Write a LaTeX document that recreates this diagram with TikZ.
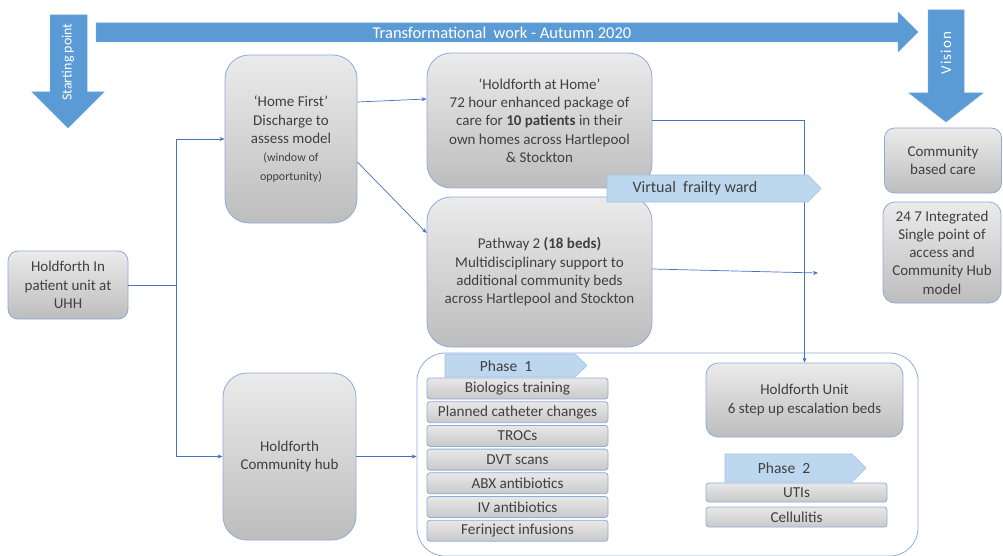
\documentclass[tikz,border=0pt]{standalone}
\usepackage{fontspec}
\setmainfont{Carlito}
\usetikzlibrary{arrows.meta}

\definecolor{bigarrow}{HTML}{5B9BD5}
\definecolor{conn}{HTML}{4472C4}
\definecolor{boxline}{HTML}{8EAADB}
\definecolor{gtop}{HTML}{EBEBEB}
\definecolor{gbot}{HTML}{BDBDBD}
\definecolor{itop}{HTML}{E8E8E8}
\definecolor{ibot}{HTML}{C9C9C9}
\definecolor{txt}{HTML}{404040}
\definecolor{tagfill}{HTML}{BDD7EE}
\definecolor{tagline}{HTML}{9DC3E6}

\tikzset{
  box/.style={draw=boxline, line width=0.8pt, top color=gtop, bottom color=gbot,
    text=txt, align=center, inner sep=2pt,
    font=\fontsize{15}{18.3}\selectfont},
  itembox/.style={draw=boxline, line width=0.8pt, top color=itop, bottom color=ibot,
    text=txt, rounded corners=3pt, minimum width=181pt, minimum height=21pt, inner sep=0pt,
    font=\fontsize{15.2}{17}\selectfont},
  conn/.style={draw=conn, line width=0.7pt},
  arr/.style={conn, -{Stealth[length=5pt,width=4pt]}},
  tag/.style={fill=tagfill, draw=tagline, line width=0.6pt},
  tagtext/.style={text=txt, font=\fontsize{15.5}{18}\selectfont},
  bigarrow/.style={fill=bigarrow, draw=bigarrow!85!white, line width=0.5pt},
  arrowtext/.style={text=white, font=\fontsize{14}{16}\selectfont},
}

\begin{document}
\begin{tikzpicture}[x=1pt, y=-1pt]
\useasboundingbox (0,0) rectangle (1003,556);

% --- timeline arrows ---
\path[bigarrow] (50,15) -- (87,15) -- (87,92) -- (104,92) -- (68,128) -- (32,92) -- (50,92) -- cycle;
\node[arrowtext, rotate=90] (startlbl) at (68,62) {Starting point};

\path[bigarrow] (96,23) -- (898,23) -- (898,12) -- (918,32) -- (898,52) -- (898,42) -- (96,42) -- cycle;
\node[arrowtext, font=\fontsize{16.5}{18}\selectfont] (timelbl) at (502,32.5) {Transformational\ \ work - Autumn 2020};

\path[bigarrow] (928,10) -- (964,10) -- (964,93) -- (983,93) -- (946,122) -- (909,93) -- (928,93) -- cycle;
\node[arrowtext, rotate=90, font=\fontsize{15}{16}\selectfont] (visionlbl) at (946,53) {V\kern1pt i\kern1pt s\kern1pt i\kern1pt o\kern1pt n};

% --- main boxes ---
\node[box, rounded corners=10pt, minimum width=120pt, minimum height=68pt] (uhh) at (68,285)
  {Holdforth In\\patient unit at\\UHH};
\node[box, rounded corners=24pt, minimum width=132pt, minimum height=168pt] (hf) at (291,139)
  {`Home First'\\Discharge to\\assess model\\{\fontsize{12}{17}\selectfont (window of}\\{\fontsize{12}{17}\selectfont opportunity)}};
\node[box, rounded corners=24pt, minimum width=225pt, minimum height=135pt] (hah) at (539.5,120.5)
  {`Holdforth at Home'\\72 hour enhanced package of\\care for \textbf{10 patients} in their\\own homes across Hartlepool\\\& Stockton};
\node[box, rounded corners=24pt, minimum width=225pt, minimum height=150pt] (pw) at (539.5,272)
  {Pathway 2 \textbf{(18 beds)}\\Multidisciplinary support to\\additional community beds\\across Hartlepool and Stockton};
\node[box, rounded corners=24pt, minimum width=133pt, minimum height=167pt] (hub) at (289.5,456.5)
  {Holdforth\\Community hub};
\node[box, rounded corners=10pt, minimum width=117pt, minimum height=65pt] (cbc) at (943,160.5)
  {Community\\based care};
\node[box, rounded corners=12pt, minimum width=118pt, minimum height=101pt] (spa) at (942,252.5)
  {24 7 Integrated\\Single point of\\access and\\Community Hub\\model};

% --- community hub services ---
\node[draw=boxline, line width=0.8pt, rounded corners=28pt, minimum width=501pt, minimum height=203pt] (services) at (667.5,454.5) {};

\node[box, rounded corners=12pt, minimum width=197pt, minimum height=74pt] (unit) at (804.5,400)
  {Holdforth Unit\\6 step up escalation beds};

\node[itembox] (i1) at (517.5,388.5) {Biologics training};
\node[itembox] (i2) at (517.5,412.2) {Planned catheter changes};
\node[itembox] (i3) at (517.5,435.9) {TROCs};
\node[itembox] (i4) at (517.5,459.6) {DVT scans};
\node[itembox] (i5) at (517.5,483.3) {ABX antibiotics};
\node[itembox] (i6) at (517.5,507.0) {IV antibiotics};
\node[itembox] (i7) at (517.5,530.7) {Ferinject infusions};

\node[itembox, minimum height=19pt] (u1) at (796.5,492.5) {UTIs};
\node[itembox, minimum height=20pt] (u2) at (796.5,517) {Cellulitis};

% --- connectors ---
\coordinate (split) at (176,285);
\coordinate (pwend) at (818,273);
\draw[conn] (uhh.east) -- (split);
\draw[arr] (split) |- (hf.west);
\draw[arr] (split) |- (hub.west);
\draw[arr] ([yshift=37pt]hf.east) -- ([yshift=21.5pt]hah.west);
\draw[arr] ([yshift=-23pt]hf.east) -- ([yshift=39pt]pw.west);
\draw[arr] (hah.east) -| (unit.north);
\draw[arr] ([yshift=3pt]pw.east) -- (pwend);
\draw[arr] (hub.east) -- (hub.east -| services.west);

% --- phase tags ---
\path[tag] (607,175) -- (808,175) -- (821,188.5) -- (808,202) -- (607,202) -- cycle;
\node[tagtext, anchor=west, font=\fontsize{16}{18}\selectfont] (vfw) at (629,188.5) {Virtual\ \ frailty ward};

\path[tag] (445,354) -- (575,354) -- (587,365.5) -- (575,377) -- (445,377) -- cycle;
\node[tagtext] (ph1) at (506,366) {Phase\ \ 1};

\path[tag] (725,454) -- (852,454) -- (866,468) -- (852,482) -- (725,482) -- cycle;
\node[tagtext] (ph2) at (784,468) {Phase\ \ 2};

\end{tikzpicture}
\end{document}
